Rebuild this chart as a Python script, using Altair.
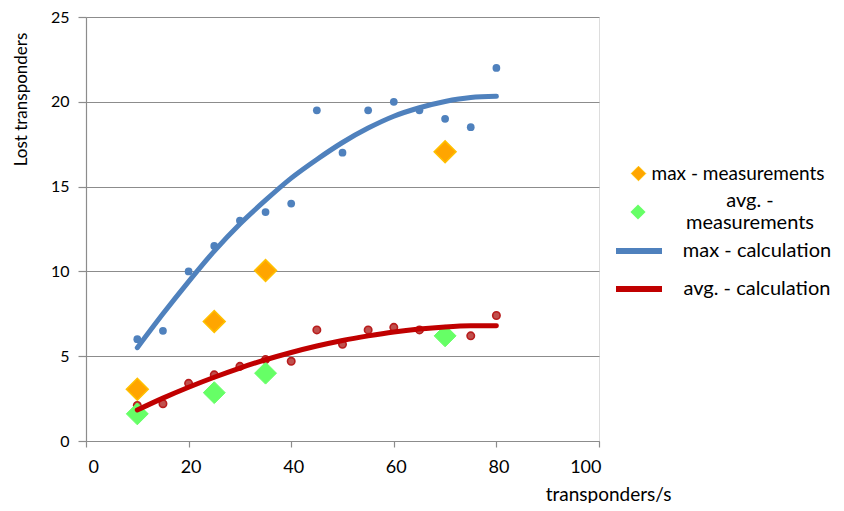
import altair as alt
import pandas as pd

# ---- data ----
x_vals = [10, 15, 20, 25, 30, 35, 40, 45, 50, 55, 60, 65, 70, 75, 80]
max_points = [6.0, 6.5, 10.0, 11.5, 13.0, 13.5, 14.0, 19.5, 17.0, 19.5, 20.0, 19.5, 19.0, 18.5, 22.0]
avg_points = [2.1, 2.2, 3.4, 3.9, 4.4, 4.8, 4.7, 6.55, 5.7, 6.55, 6.7, 6.55, 6.4, 6.2, 7.4]
max_calc = [5.5, 7.5, 9.4, 11.2, 12.8, 14.2, 15.5, 16.6, 17.6, 18.45, 19.15, 19.65, 20.02, 20.25, 20.32]
avg_calc = [1.83, 2.53, 3.17, 3.76, 4.3, 4.79, 5.22, 5.6, 5.93, 6.2, 6.43, 6.6, 6.72, 6.79, 6.8]

meas_x = [10, 25, 35, 70]
max_meas = [3.05, 7.05, 10.05, 17.05]
avg_meas = [1.6, 2.85, 4.0, 6.2]

meas_names = ["max - measurements", "avg. - measurements"]
calc_names = ["max - calculation", "avg. - calculation"]
x_ticks = [0, 20, 40, 60, 80, 100]
y_ticks = [0, 5, 10, 15, 20, 25]

BLUE = "#4F81BD"
RED_DOT = "#C0504D"
RED_LINE = "#C00000"
ORANGE = "#FFA500"
ORANGE_EDGE = "#FFC000"
GREEN = "#66FF66"
GRID = "#8C8C8C"
FONT = "Lato"

pts_max = pd.DataFrame({"x": x_vals, "y": max_points})
pts_avg = pd.DataFrame({"x": x_vals, "y": avg_points})
meas_max = pd.DataFrame({"x": meas_x, "y": max_meas, "series": [meas_names[0]] * len(meas_x)})
meas_avg = pd.DataFrame({"x": meas_x, "y": avg_meas, "series": [meas_names[1]] * len(meas_x)})
calc = pd.DataFrame({
    "x": x_vals + x_vals,
    "y": max_calc + avg_calc,
    "series": [calc_names[0]] * len(x_vals) + [calc_names[1]] * len(x_vals),
})

x_enc = alt.X(
    "x:Q",
    scale=alt.Scale(domain=[0, 100], nice=False),
    axis=alt.Axis(
        values=x_ticks, grid=False, tickSize=6, tickColor=GRID, domainColor=GRID,
        tickWidth=1.2, domainWidth=1.2,
        labelFont=FONT, labelFontSize=18, labelColor="#000000", labelPadding=11, labelOffset=2,
        title="transponders/s", titleFont=FONT, titleFontSize=19, titleFontWeight="normal",
        titleColor="#000000", titleX=522, titleY=53, titleAlign="center", titleBaseline="middle",
    ),
)
y_enc = alt.Y(
    "y:Q",
    scale=alt.Scale(domain=[0, 25], nice=False),
    axis=alt.Axis(
        values=y_ticks, grid=True, gridColor=GRID, gridWidth=1.2, tickSize=8, tickColor=GRID,
        tickWidth=1.2, domainColor=GRID, domainWidth=1.2,
        labelFont=FONT, labelFontSize=16, labelColor="#000000", labelPadding=9,
        title="Lost transponders", titleFont=FONT, titleFontSize=17, titleFontWeight="normal",
        titleColor="#000000", titleX=-65, titleY=82, titleAlign="center", titleBaseline="middle",
    ),
)

dots_avg = alt.Chart(pts_avg).mark_circle(
    size=55, fill=RED_DOT, stroke="#B81C1C", strokeWidth=1.6, opacity=1
).encode(x=x_enc, y=y_enc)

dots_max = alt.Chart(pts_max).mark_circle(size=60, color=BLUE, opacity=1).encode(x=x_enc, y=y_enc)

diam_max = alt.Chart(meas_max).mark_point(
    shape="diamond", filled=True, size=480, opacity=1, stroke=ORANGE_EDGE, strokeWidth=1.5
).encode(
    x=x_enc,
    y=y_enc,
    fill=alt.Fill(
        "series:N",
        scale=alt.Scale(domain=[meas_names[0]], range=[ORANGE]),
        legend=alt.Legend(
            title=None, orient="none", legendX=543, legendY=147, padding=0,
            symbolType="diamond", symbolSize=210, symbolStrokeColor=ORANGE_EDGE,
            symbolStrokeWidth=1, symbolOpacity=1,
            labelFont=FONT, labelFontSize=19, labelColor="#000000", labelAlign="center",
            labelOffset=90, labelLimit=400,
        ),
    ),
)

diam_avg = alt.Chart(meas_avg).mark_point(
    filled=True, size=480, opacity=1, fill=GREEN, stroke=GREEN, strokeWidth=1
).encode(
    x=x_enc,
    y=y_enc,
    shape=alt.Shape(
        "series:N",
        scale=alt.Scale(domain=[meas_names[1]], range=["diamond"]),
        legend=alt.Legend(
            title=None, orient="none", legendX=542, legendY=185, padding=0,
            symbolSize=230, symbolFillColor=GREEN, symbolStrokeColor=GREEN,
            symbolStrokeWidth=0, symbolOpacity=1,
            labelFont=FONT, labelFontSize=20, labelColor="#000000", labelAlign="center",
            labelBaseline="line-bottom", labelOffset=102, labelLimit=400,
            labelExpr="['avg.  -', 'measurements']",
        ),
    ),
)

lines = alt.Chart(calc).mark_line(strokeWidth=5, interpolate="monotone", strokeCap="round").encode(
    x=x_enc,
    y=y_enc,
    stroke=alt.Stroke(
        "series:N",
        scale=alt.Scale(domain=calc_names, range=[BLUE, RED_LINE]),
        legend=alt.Legend(
            title=None, orient="none", legendX=527, legendY=208, padding=0,
            symbolType="stroke", symbolSize=2116, symbolStrokeWidth=6,
            labelFont=FONT, labelFontSize=20, labelColor="#000000", labelAlign="center",
            labelOffset=92, labelLimit=400, rowPadding=-8,
        ),
    ),
    detail="series:N",
)

chart = alt.layer(dots_avg, dots_max, diam_max, diam_avg, lines).properties(
    width=513,
    height=424,
    autosize=alt.AutoSizeParams(type="none"),
    padding={"left": 78, "top": 9, "right": 237, "bottom": 62},
).configure_view(stroke=None).configure(background="white")

chart.save("out.html", embed_options={"renderer": "svg", "actions": False})
